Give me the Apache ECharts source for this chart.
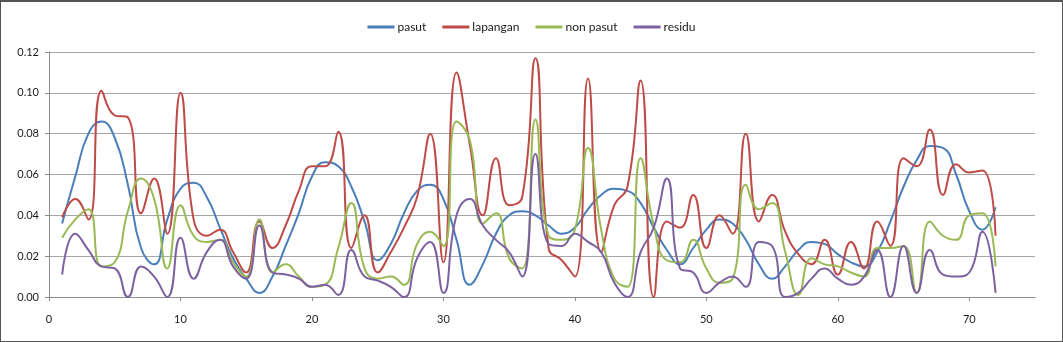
<!DOCTYPE html>
<html>
<head>
<meta charset="utf-8">
<script src="https://cdn.jsdelivr.net/npm/echarts@6/dist/echarts.min.js"></script>
<style>
    html, body { margin: 0; padding: 0; background: #fff; }
    #wrap { position: relative; width: 1063px; height: 342px; }
    #chart { width: 1063px; height: 342px; }
    #frame { position: absolute; left: 0; top: 0; width: 1063px; height: 342px; box-sizing: border-box; border: 1px solid #555; border-top-width: 2px; pointer-events: none; }
</style>
</head>
<body>
<div id="wrap">
    <div id="chart"></div>
    <div id="frame"></div>
</div>
<script>
// x: urutan data 1..72
const xs = Array.from({ length: 72 }, (_, i) => i + 1);

const pasut = [
    0.036, 0.059, 0.080, 0.086, 0.078, 0.055, 0.024, 0.016, 0.038, 0.053,
    0.056, 0.049, 0.034, 0.019, 0.009, 0.002, 0.010, 0.025, 0.041, 0.059,
    0.066, 0.064, 0.054, 0.037, 0.018, 0.026, 0.041, 0.052, 0.055, 0.048,
    0.028, 0.006, 0.016, 0.031, 0.040, 0.042, 0.040, 0.035, 0.031, 0.034,
    0.043, 0.050, 0.053, 0.052, 0.046, 0.034, 0.023, 0.016, 0.024, 0.033,
    0.038, 0.036, 0.028, 0.016, 0.009, 0.015, 0.023, 0.027, 0.026, 0.021,
    0.017, 0.015, 0.022, 0.037, 0.054, 0.067, 0.074, 0.073, 0.060, 0.042,
    0.033, 0.044
];
const lapangan = [
    0.039, 0.048, 0.038, 0.101, 0.089, 0.088, 0.041, 0.058, 0.031, 0.100,
    0.038, 0.030, 0.033, 0.022, 0.012, 0.037, 0.024, 0.035, 0.052, 0.064,
    0.064, 0.081, 0.024, 0.040, 0.012, 0.022, 0.034, 0.049, 0.080, 0.017,
    0.110, 0.075, 0.040, 0.068, 0.045, 0.049, 0.117, 0.024, 0.018, 0.010,
    0.107, 0.022, 0.045, 0.054, 0.106, 0.000, 0.037, 0.034, 0.050, 0.024,
    0.040, 0.031, 0.080, 0.037, 0.050, 0.032, 0.021, 0.016, 0.028, 0.011,
    0.027, 0.014, 0.037, 0.025, 0.068, 0.064, 0.082, 0.050, 0.065, 0.061,
    0.062, 0.030
];
const nonPasut = [
    0.029, 0.038, 0.043, 0.015, 0.017, 0.042, 0.058, 0.048, 0.014, 0.045,
    0.030, 0.027, 0.028, 0.017, 0.010, 0.038, 0.012, 0.016, 0.010, 0.005,
    0.006, 0.024, 0.046, 0.014, 0.009, 0.010, 0.006, 0.026, 0.032, 0.025,
    0.086, 0.077, 0.036, 0.041, 0.019, 0.014, 0.087, 0.030, 0.028, 0.033,
    0.073, 0.033, 0.009, 0.005, 0.068, 0.035, 0.018, 0.017, 0.028, 0.014,
    0.007, 0.009, 0.055, 0.043, 0.046, 0.022, 0.001, 0.019, 0.016, 0.015,
    0.012, 0.010, 0.024, 0.024, 0.025, 0.002, 0.037, 0.030, 0.028, 0.040,
    0.041, 0.015
];
const residu = [
    0.011, 0.031, 0.023, 0.015, 0.014, 0.000, 0.015, 0.010, 0.000, 0.029,
    0.009, 0.022, 0.028, 0.015, 0.009, 0.035, 0.012, 0.011, 0.009, 0.005,
    0.006, 0.001, 0.023, 0.010, 0.008, 0.005, 0.000, 0.019, 0.027, 0.002,
    0.040, 0.048, 0.035, 0.028, 0.022, 0.010, 0.070, 0.026, 0.025, 0.031,
    0.027, 0.022, 0.007, 0.000, 0.022, 0.034, 0.058, 0.014, 0.012, 0.002,
    0.007, 0.010, 0.005, 0.027, 0.025, 0.000, 0.002, 0.009, 0.014, 0.009,
    0.006, 0.010, 0.023, 0.000, 0.025, 0.002, 0.023, 0.011, 0.010, 0.012,
    0.032, 0.002
];

const seriesNames = ['pasut', 'lapangan', 'non pasut', 'residu'];
const colors = ['#4a7ebb', '#be4b48', '#98b954', '#7d60a0'];

const font = 'Lato, "Open Sans", sans-serif';
const pair = arr => xs.map((x, i) => [x, arr[i]]);

const chart = echarts.init(document.getElementById('chart'));

const mkLine = (name, arr, color) => ({
    name,
    type: 'line',
    data: pair(arr),
    smooth: 0.5,
    symbol: 'none',
    lineStyle: { color, width: 2 },
    itemStyle: { color }
});

chart.setOption({
    animation: false,
    textStyle: { fontFamily: font },
    legend: {
        data: seriesNames,
        top: 16,
        left: 'center',
        icon: 'rect',
        itemWidth: 27,
        itemHeight: 3,
        itemGap: 16,
        textStyle: { fontSize: 12, color: '#1a1a1a', fontFamily: font, padding: [0, 0, 0, -2] }
    },
    grid: {
        left: 49,
        right: 28,
        top: 52,
        bottom: 45
    },
    xAxis: {
        type: 'value',
        min: 0,
        max: 75,
        interval: 10,
        axisLine: { show: true, lineStyle: { color: '#8c8c8c', width: 1 } },
        axisTick: { show: true, inside: false, length: 4, lineStyle: { color: '#8c8c8c' } },
        axisLabel: {
            showMaxLabel: false,
            margin: 17,
            fontSize: 11,
            color: '#1a1a1a',
            fontFamily: font
        },
        splitLine: { show: false }
    },
    yAxis: {
        type: 'value',
        min: 0,
        max: 0.12,
        interval: 0.02,
        axisLine: { show: true, lineStyle: { color: '#8c8c8c', width: 1 } },
        axisTick: { show: true, inside: false, length: 4, lineStyle: { color: '#8c8c8c' } },
        axisLabel: {
            margin: 10,
            fontSize: 11,
            color: '#1a1a1a',
            fontFamily: font,
            formatter: v => v.toFixed(2)
        },
        splitLine: { show: true, lineStyle: { color: '#a6a6a6', width: 1 } }
    },
    series: [
        mkLine(seriesNames[0], pasut, colors[0]),
        mkLine(seriesNames[1], lapangan, colors[1]),
        mkLine(seriesNames[2], nonPasut, colors[2]),
        mkLine(seriesNames[3], residu, colors[3])
    ]
});
</script>
</body>
</html>
